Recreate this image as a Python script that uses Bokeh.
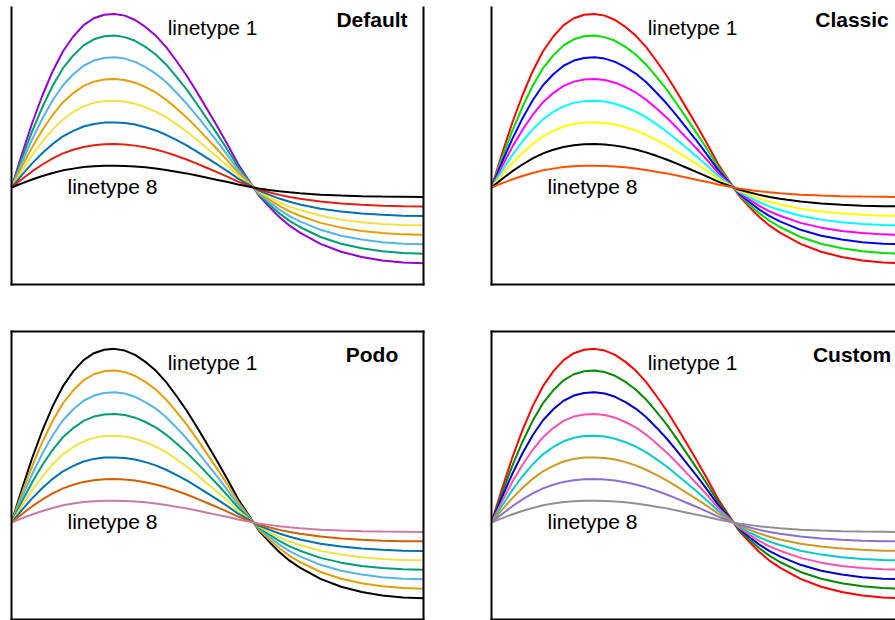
from bokeh.plotting import figure
from bokeh.models import LinearAxis, FixedTicker, Range1d
from bokeh.layouts import column, row
from bokeh.embed import file_html
from bokeh.resources import INLINE
from bokeh.core.properties import value

# ---------------- data ----------------
x = [0, 0.25, 0.5, 0.75, 1.0, 1.25, 1.5, 1.75, 2.0, 2.25, 2.5, 2.75, 3.0, 3.25,
     3.5, 3.75, 4.0, 4.25, 4.5, 4.75, 5.0, 5.25, 5.5, 5.75, 6.0, 6.25, 6.5, 6.75,
     7.0, 7.5, 8.0, 8.5, 9.0, 9.5, 10.0]

lt1 = [0, 1.52, 2.96, 4.24, 5.36, 6.28, 6.96, 7.48, 7.80, 7.96, 8.00, 7.92, 7.72, 7.40,
       7.00, 6.48, 5.84, 5.16, 4.40, 3.60, 2.80, 1.96, 1.08, 0.36, -0.36, -0.88, -1.36, -1.76,
       -2.08, -2.60, -2.96, -3.20, -3.36, -3.46, -3.49]
lt2 = [0, 1.33, 2.59, 3.71, 4.69, 5.50, 6.09, 6.55, 6.83, 6.97, 7.00, 6.93, 6.76, 6.48,
       6.13, 5.67, 5.11, 4.52, 3.85, 3.15, 2.45, 1.72, 0.95, 0.32, -0.32, -0.77, -1.19, -1.54,
       -1.82, -2.28, -2.59, -2.80, -2.94, -3.02, -3.05]
lt3 = [0, 1.14, 2.22, 3.18, 4.02, 4.71, 5.22, 5.61, 5.85, 5.97, 6.00, 5.94, 5.79, 5.55,
       5.25, 4.86, 4.38, 3.87, 3.30, 2.70, 2.10, 1.47, 0.81, 0.27, -0.27, -0.66, -1.02, -1.32,
       -1.56, -1.95, -2.22, -2.40, -2.52, -2.59, -2.62]
lt4 = [0, 0.95, 1.85, 2.65, 3.35, 3.93, 4.35, 4.68, 4.88, 4.98, 5.00, 4.95, 4.83, 4.63,
       4.38, 4.05, 3.65, 3.23, 2.75, 2.25, 1.75, 1.23, 0.68, 0.23, -0.23, -0.55, -0.85, -1.10,
       -1.30, -1.63, -1.85, -2.00, -2.10, -2.16, -2.18]
lt5 = [0, 0.76, 1.48, 2.12, 2.68, 3.14, 3.48, 3.74, 3.90, 3.98, 4.00, 3.96, 3.86, 3.70,
       3.50, 3.24, 2.92, 2.58, 2.20, 1.80, 1.40, 0.98, 0.54, 0.18, -0.18, -0.44, -0.68, -0.88,
       -1.04, -1.30, -1.48, -1.60, -1.68, -1.73, -1.74]
lt6 = [0, 0.57, 1.11, 1.59, 2.01, 2.36, 2.61, 2.81, 2.93, 2.99, 3.00, 2.97, 2.90, 2.78,
       2.63, 2.43, 2.19, 1.94, 1.65, 1.35, 1.05, 0.74, 0.41, 0.14, -0.14, -0.33, -0.51, -0.66,
       -0.78, -0.98, -1.11, -1.20, -1.26, -1.30, -1.31]
lt7 = [0, 0.38, 0.74, 1.06, 1.34, 1.57, 1.74, 1.87, 1.95, 1.99, 2.00, 1.98, 1.93, 1.85,
       1.75, 1.62, 1.46, 1.29, 1.10, 0.90, 0.70, 0.49, 0.27, 0.09, -0.09, -0.22, -0.34, -0.44,
       -0.52, -0.65, -0.74, -0.80, -0.84, -0.86, -0.87]
lt8 = [0, 0.19, 0.37, 0.53, 0.67, 0.79, 0.87, 0.94, 0.98, 1.00, 1.00, 0.99, 0.97, 0.93,
       0.88, 0.81, 0.73, 0.65, 0.55, 0.45, 0.35, 0.25, 0.14, 0.05, -0.05, -0.11, -0.17, -0.22,
       -0.26, -0.33, -0.37, -0.40, -0.42, -0.43, -0.44]
series = [lt1, lt2, lt3, lt4, lt5, lt6, lt7, lt8]

titles = ["Default", "Classic", "Podo", "Custom"]
colors_default = ["#9400d3", "#009e73", "#56b4e9", "#e69f00", "#f0e442", "#0072b2", "#e51e10", "#000000"]
colors_classic = ["#ff0000", "#00e000", "#0000ff", "#ff00ff", "#00ffff", "#ffff00", "#000000", "#ff5000"]
colors_podo = ["#000000", "#e69f00", "#56b4e9", "#009e73", "#f0e442", "#0072b2", "#d55e00", "#cc79a7"]
colors_custom = ["#ff0000", "#008b00", "#0000cd", "#ff50b0", "#00cccc", "#cc9922", "#8a6fd8", "#909090"]
palettes = [colors_default, colors_classic, colors_podo, colors_custom]

label_top = "linetype 1"
label_bottom = "linetype 8"

FONT = "Liberation Sans"


def border_axis():
    return LinearAxis(ticker=FixedTicker(ticks=[]), major_label_text_font_size="0px",
                      major_tick_in=0, major_tick_out=0, minor_tick_in=0, minor_tick_out=0,
                      major_label_standoff=0, axis_label_standoff=0,
                      axis_line_width=2, axis_line_color="black", axis_line_cap="square")


def panel(title, colors, fw, fh, xr, yr, sides, mb):
    p = figure(frame_width=fw, frame_height=fh, x_range=Range1d(*xr), y_range=Range1d(*yr),
               x_axis_type=None, y_axis_type=None, toolbar_location=None,
               output_backend="svg", min_border=0,
               min_border_left=mb[0], min_border_right=mb[1],
               min_border_top=mb[2], min_border_bottom=mb[3])
    p.outline_line_color = None
    p.background_fill_color = "white"
    p.border_fill_color = "white"
    for s in sides:
        p.add_layout(border_axis(), s)
    for ys, c in zip(series, colors):
        p.line(x, ys, line_color=c, line_width=2)
    p.text(x=[3.79], y=[7.36], text=[label_top], text_font=value(FONT), text_font_size="21px",
           text_align="left", text_baseline="alphabetic", text_color="black")
    p.text(x=[1.36], y=[0.03], text=[label_bottom], text_font=value(FONT), text_font_size="21px",
           text_align="left", text_baseline="alphabetic", text_color="black")
    p.text(x=[8.75], y=[7.76], text=[title], text_font=value(FONT), text_font_size="21px",
           text_font_style="bold", text_align="center", text_baseline="alphabetic",
           text_color="black")
    return p


XR_L = (0, 10.0)
XR_R = (0, 404 / 41.2)
YR_T = (-4.47, 8.295)
YR_B = (-4.47, 8.80)

p1 = panel(titles[0], palettes[0], 412, 277, XR_L, YR_T, ["left", "below", "right"], (11, 34, 7, 23))
p2 = panel(titles[1], palettes[1], 404, 277, XR_R, YR_T, ["left", "below"], (34, 0, 7, 23))
p3 = panel(titles[2], palettes[2], 412, 288, XR_L, YR_B, ["left", "below", "right", "above"], (11, 34, 24, 1))
p4 = panel(titles[3], palettes[3], 404, 288, XR_R, YR_B, ["left", "below", "above"], (34, 0, 24, 1))

layout = column(row(p1, p2), row(p3, p4))
open("out.html", "w").write(file_html(layout, INLINE))
